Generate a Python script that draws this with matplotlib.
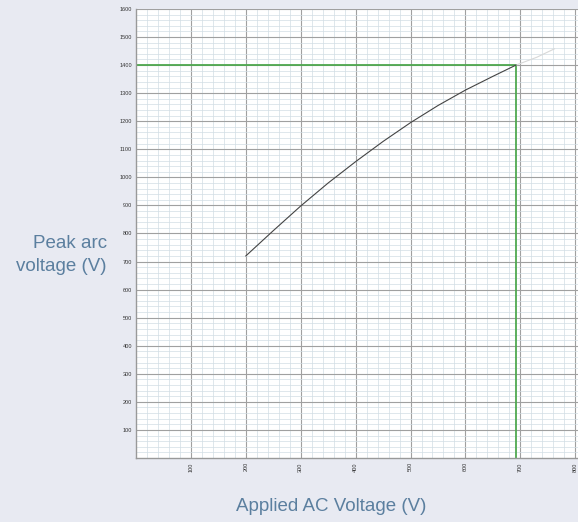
import matplotlib.pyplot as plt
from matplotlib.ticker import MultipleLocator

plt.rcParams['font.family'] = ['Liberation Sans', 'DejaVu Sans']

# curve
volts_ac = [200, 250, 300, 350, 400, 450, 500, 550, 600, 650, 692]
arc_peak = [720, 810, 898, 980, 1056, 1128, 1195, 1256, 1311, 1360, 1400]
# faint continuation past the marked point
ext_ac = [692, 730, 762]
ext_peak = [1400, 1428, 1458]
# marked point
mark_ac = 692
mark_peak = 1400

xticks = [100, 200, 300, 400, 500, 600, 700, 800]
yticks = list(range(100, 1700, 100))

bg = '#e8eaf2'
txt = '#5b7f9f'

fig = plt.figure(figsize=(5.78, 5.22), dpi=100, facecolor=bg)
ax = fig.add_axes([0.2353, 0.1226, 0.7647, 0.8602])
ax.set_facecolor('white')

ax.set_xlim(0, 805)
ax.set_ylim(0, 1600)

ax.xaxis.set_minor_locator(MultipleLocator(20))
ax.yaxis.set_minor_locator(MultipleLocator(20))
ax.grid(which='minor', color='#d2dde4', lw=0.5)
ax.grid(which='major', color='#a0a0a0', lw=0.8)
ax.set_axisbelow(True)

ax.set_xticks(xticks)
ax.set_xticklabels([str(v) for v in xticks], rotation=90)
ax.set_yticks(yticks)
ax.set_yticklabels([str(v) for v in yticks])
ax.tick_params(which='both', length=0, labelsize=4, labelcolor='#333333', pad=3)

for s in ['top', 'right']:
    ax.spines[s].set_visible(False)
for s in ['left', 'bottom']:
    ax.spines[s].set_color('#999999')
    ax.spines[s].set_linewidth(1)

ax.plot([0, mark_ac], [mark_peak, mark_peak], color='#4fa84f', lw=1.3)
ax.plot([mark_ac, mark_ac], [0, mark_peak], color='#4fa84f', lw=1.3)

ax.plot(ext_ac, ext_peak, color='#d8d8d8', lw=0.8)
ax.plot(volts_ac, arc_peak, color='#444444', lw=0.8)

fig.text(0.185, 0.512, 'Peak arc\nvoltage (V)', ha='right', va='center',
         fontsize=13.5, color=txt, linespacing=1.45)
fig.text(0.573, 0.029, 'Applied AC Voltage (V)', ha='center', va='center',
         fontsize=13.5, color=txt)

plt.savefig('out.png', dpi=100, facecolor=bg)
